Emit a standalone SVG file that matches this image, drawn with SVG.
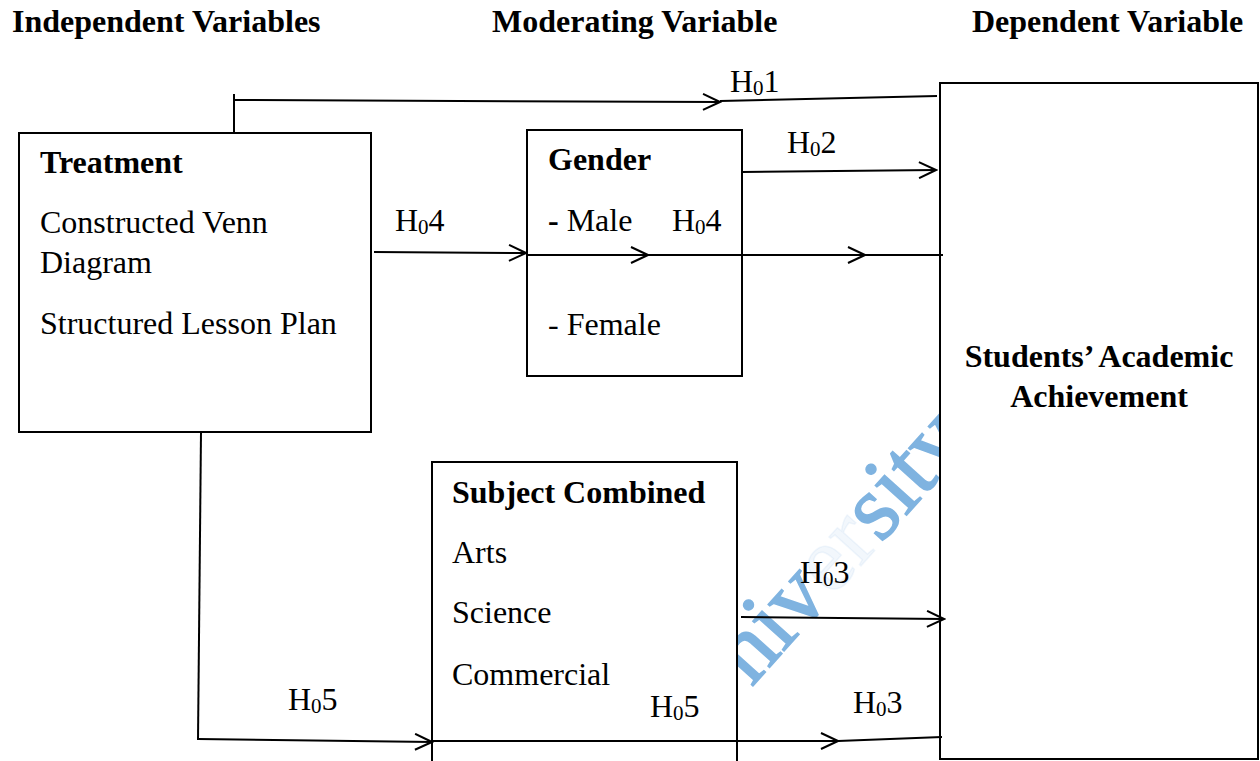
<svg xmlns="http://www.w3.org/2000/svg" width="1260" height="761" viewBox="0 0 1260 761">
<style>
text{font-family:"Liberation Serif","Times New Roman",serif;font-size:32px;fill:#000}
.b{font-weight:bold}
.box{fill:#fff;stroke:#000;stroke-width:2}
.ln{fill:none;stroke:#000;stroke-width:2}
.arr{marker-end:url(#ah)}
.sub{font-size:21px}
.wm{font-size:94px;fill:#7fb3e0;stroke:#7fb3e0;stroke-width:1.5}
</style>
<defs>
<marker id="ah" viewBox="0 0 20 18" markerWidth="20" markerHeight="18" refX="18" refY="9" orient="auto" markerUnits="userSpaceOnUse">
<path d="M1,1 L18,9 L1,17" fill="none" stroke="#000" stroke-width="2"/>
</marker>
</defs>
<rect width="1260" height="761" fill="#fff"/>
<g id="headers">
<text class="b" x="12" y="32">Independent Variables</text>
<text class="b" x="492" y="32">Moderating Variable</text>
<text class="b" x="972" y="32">Dependent Variable</text>
</g>
<g id="watermark">
<text class="wm" transform="translate(706,738) rotate(-48)">Univ<tspan fill-opacity="0.1" stroke-opacity="0.1">er</tspan>sity</text>
</g>
<g id="treatment">
<rect class="box" x="19" y="133" width="352" height="299"/>
<text class="b" x="40" y="173">Treatment</text>
<text x="40" y="233">Constructed Venn</text>
<text x="40" y="273">Diagram</text>
<text x="40" y="334">Structured Lesson Plan</text>
</g>
<g id="gender">
<rect class="box" x="527" y="130" width="215" height="246"/>
<text class="b" x="548" y="170">Gender</text>
<text x="548" y="231"><tspan class="b">-</tspan> Male</text>
<text x="548" y="335">- Female</text>
</g>
<g id="subject">
<rect class="box" x="432" y="462" width="305" height="310"/>
<text class="b" x="452" y="503">Subject Combined</text>
<text x="452" y="563">Arts</text>
<text x="452" y="623">Science</text>
<text x="452" y="685">Commercial</text>
</g>
<g id="dependent">
<rect class="box" x="940" y="83" width="318" height="676"/>
<text class="b" x="1099" y="367" text-anchor="middle">Students’ Academic</text>
<text class="b" x="1099" y="407" text-anchor="middle">Achievement</text>
</g>
<g id="connectors">
<path class="ln" d="M234,133 L234,94"/>
<path class="ln arr" d="M234,100 L720,102"/>
<path class="ln" d="M720,101 L937,96"/>
<path class="ln arr" d="M742,172 L936,170"/>
<path class="ln arr" d="M374,252 L526,253"/>
<path class="ln arr" d="M527,255 L648,255"/>
<path class="ln arr" d="M648,255 L865,255"/>
<path class="ln" d="M865,255 L943,255"/>
<path class="ln" d="M201,432 L198,740"/>
<path class="ln arr" d="M198,739 L432,742"/>
<path class="ln arr" d="M432,741 L838,741"/>
<path class="ln" d="M838,741 L942,737"/>
<path class="ln arr" d="M741,617 L944,619"/>
</g>
<g id="labels">
<text x="730" y="92">H<tspan class="sub" dy="3">0</tspan><tspan dy="-3">1</tspan></text>
<text x="787" y="153">H<tspan class="sub" dy="3">0</tspan><tspan dy="-3">2</tspan></text>
<text x="395" y="231">H<tspan class="sub" dy="3">0</tspan><tspan dy="-3">4</tspan></text>
<text x="672" y="231">H<tspan class="sub" dy="3">0</tspan><tspan dy="-3">4</tspan></text>
<text x="800" y="583">H<tspan class="sub" dy="3">0</tspan><tspan dy="-3">3</tspan></text>
<text x="853" y="713">H<tspan class="sub" dy="3">0</tspan><tspan dy="-3">3</tspan></text>
<text x="288" y="710">H<tspan class="sub" dy="3">0</tspan><tspan dy="-3">5</tspan></text>
<text x="650" y="717">H<tspan class="sub" dy="3">0</tspan><tspan dy="-3">5</tspan></text>
</g>
</svg>
